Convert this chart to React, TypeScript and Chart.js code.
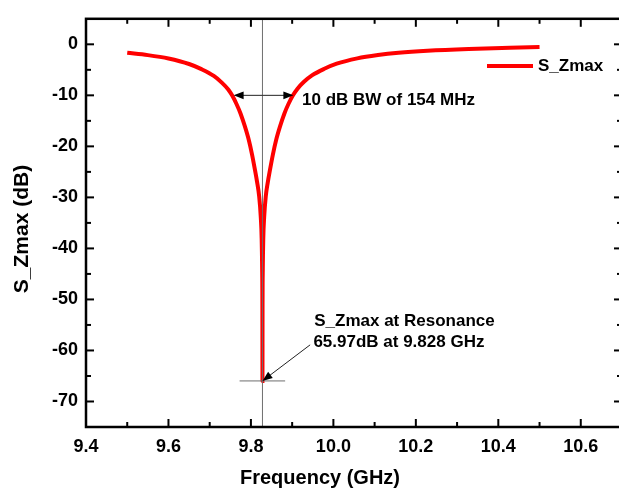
import React, { useEffect, useRef } from "react";
import { Chart, registerables } from "chart.js";

Chart.register(...registerables);

// ---- data ----
const frequencyGHz = [
  9.5, 9.55, 9.6, 9.65, 9.68, 9.71, 9.73, 9.745, 9.755, 9.765, 9.775, 9.785, 9.795, 9.803,
  9.81, 9.815, 9.82, 9.824, 9.826, 9.8272, 9.8278, 9.828, 9.8282, 9.8288, 9.83, 9.832, 9.836,
  9.841, 9.846, 9.853, 9.861, 9.871, 9.881, 9.891, 9.902, 9.913, 9.928, 9.948, 9.978, 10.008,
  10.058, 10.108, 10.158, 10.228, 10.328, 10.428, 10.5,
];
const szmaxDb = [
  -1.67, -2.12, -2.78, -3.86, -4.87, -6.2, -7.55, -8.85, -10.1, -11.7, -13.6, -16.0, -18.8, -21.7,
  -24.7, -27.0, -29.8, -34.0, -38.0, -44, -52, -65.97, -52, -44, -38.0, -34.0, -29.8,
  -27.0, -24.7, -21.7, -18.8, -16.0, -13.6, -11.7, -10.0, -8.7, -7.4, -6.1, -4.8, -3.8,
  -2.75, -2.1, -1.65, -1.25, -0.9, -0.68, -0.55,
];
const seriesLabel = "S_Zmax";
const xTickValues = [9.4, 9.6, 9.8, 10.0, 10.2, 10.4, 10.6];
const xMinorValues = [9.5, 9.7, 9.9, 10.1, 10.3, 10.5];
const yTickValues = [0, -10, -20, -30, -40, -50, -60, -70];
const yMinorValues = [-5, -15, -25, -35, -45, -55, -65];
const xTitle = "Frequency (GHz)";
const yTitle = "S_Zmax (dB)";

// annotation values
const resonanceFreq = 9.828;
const resonanceDb = -65.97;
const bwLevelDb = -10;
const bwLeftFreq = 9.758;
const bwRightFreq = 9.903;
const bwText = "10 dB BW of 154 MHz";
const resonanceText = ["S_Zmax at Resonance", "65.97dB at 9.828 GHz"];

const W = 626;
const H = 490;
const FONT = '"Liberation Sans", Arial, Helvetica, sans-serif';

function arrow(ctx: CanvasRenderingContext2D, x1: number, y1: number, x2: number, y2: number) {
  const ang = Math.atan2(y2 - y1, x2 - x1);
  const len = 10;
  const hw = 3.8;
  ctx.beginPath();
  ctx.moveTo(x1, y1);
  ctx.lineTo(x2 - Math.cos(ang) * len * 0.8, y2 - Math.sin(ang) * len * 0.8);
  ctx.stroke();
  ctx.beginPath();
  ctx.moveTo(x2, y2);
  ctx.lineTo(x2 - Math.cos(ang) * len - Math.sin(ang) * hw, y2 - Math.sin(ang) * len + Math.cos(ang) * hw);
  ctx.lineTo(x2 - Math.cos(ang) * len + Math.sin(ang) * hw, y2 - Math.sin(ang) * len - Math.cos(ang) * hw);
  ctx.closePath();
  ctx.fill();
}

const decorPlugin = {
  id: "decor",
  afterDatasetsDraw(chart: any) {
    const { ctx, chartArea: ca, scales } = chart;
    const x = scales.x;
    const y = scales.y;
    ctx.save();

    // vertical resonance marker
    const rx = x.getPixelForValue(resonanceFreq);
    ctx.strokeStyle = "#6e6e6e";
    ctx.lineWidth = 1;
    ctx.beginPath();
    ctx.moveTo(rx, ca.top);
    ctx.lineTo(rx, ca.bottom);
    ctx.stroke();

    // horizontal marker at resonance depth
    const ry = y.getPixelForValue(resonanceDb);
    ctx.beginPath();
    ctx.moveTo(x.getPixelForValue(9.7725), ry);
    ctx.lineTo(x.getPixelForValue(9.883), ry);
    ctx.stroke();

    // bandwidth double arrow
    ctx.strokeStyle = "#222";
    ctx.fillStyle = "#000";
    ctx.lineWidth = 1;
    const by = y.getPixelForValue(bwLevelDb);
    const bl = x.getPixelForValue(bwLeftFreq);
    const br = x.getPixelForValue(bwRightFreq);
    arrow(ctx, rx, by, bl, by);
    arrow(ctx, rx, by, br, by);

    // resonance arrow
    arrow(ctx, x.getPixelForValue(9.9436), y.getPixelForValue(-58.9), rx, ry);

    // texts
    ctx.fillStyle = "#000";
    ctx.font = `bold 17px ${FONT}`;
    ctx.textAlign = "left";
    ctx.textBaseline = "middle";
    ctx.fillText(bwText, x.getPixelForValue(9.924), y.getPixelForValue(-11.0));
    ctx.fillText(resonanceText[0], x.getPixelForValue(9.9535), y.getPixelForValue(-54.3));
    ctx.fillText(resonanceText[1], x.getPixelForValue(9.9515), y.getPixelForValue(-58.5));

    ctx.restore();
  },
  afterDraw(chart: any) {
    const { ctx, chartArea: ca, scales } = chart;
    const x = scales.x;
    const y = scales.y;
    ctx.save();

    // frame
    ctx.strokeStyle = "#000";
    ctx.lineWidth = 2.5;
    ctx.strokeRect(ca.left, ca.top, ca.right - ca.left, ca.bottom - ca.top);

    // inward ticks on all four sides
    ctx.lineWidth = 2;
    const seg = (a: number, b: number, c: number, d: number) => {
      ctx.beginPath();
      ctx.moveTo(a, b);
      ctx.lineTo(c, d);
      ctx.stroke();
    };
    const drawX = (vals: number[], len: number) =>
      vals.forEach((v) => {
        const px = x.getPixelForValue(v);
        seg(px, ca.bottom, px, ca.bottom - len);
        seg(px, ca.top, px, ca.top + len);
      });
    const drawY = (vals: number[], len: number) =>
      vals.forEach((v) => {
        const py = y.getPixelForValue(v);
        seg(ca.left, py, ca.left + len, py);
        seg(ca.right, py, ca.right - len, py);
      });
    drawX(xTickValues, 8);
    drawX(xMinorValues, 5);
    drawY(yTickValues, 8);
    drawY(yMinorValues, 5);

    // legend
    const ds = chart.data.datasets[0];
    const ly = ca.top + 47.3;
    ctx.strokeStyle = ds.borderColor;
    ctx.lineWidth = 4;
    seg(ca.right - 135, ly, ca.right - 89, ly);
    ctx.fillStyle = "#000";
    ctx.font = `bold 17px ${FONT}`;
    ctx.textAlign = "left";
    ctx.textBaseline = "middle";
    ctx.fillText(ds.label, ca.right - 84, ly);

    // axis titles
    ctx.font = `bold 20px ${FONT}`;
    ctx.textAlign = "center";
    ctx.textBaseline = "middle";
    ctx.fillText(xTitle, 320, 478);
    ctx.translate(22, 229);
    ctx.rotate(-Math.PI / 2);
    ctx.font = `bold 21px ${FONT}`;
    ctx.fillText(yTitle, 0, 0);

    ctx.restore();
  },
};

export default function App() {
  const ref = useRef<HTMLCanvasElement | null>(null);
  useEffect(() => {
    document.body.style.margin = "0";
    document.body.style.overflow = "hidden";
    document.documentElement.style.overflow = "hidden";
    const canvas = ref.current;
    if (!canvas) return;
    const tickFont = { family: FONT, size: 18, weight: "bold" as const };
    const chart = new Chart(canvas, {
      type: "line",
      data: {
        datasets: [
          {
            label: seriesLabel,
            data: frequencyGHz.map((f, i) => ({ x: f, y: szmaxDb[i] })),
            borderColor: "#ff0000",
            backgroundColor: "#ff0000",
            borderWidth: 4,
            pointRadius: 0,
            fill: false,
            cubicInterpolationMode: "monotone",
          },
        ],
      },
      options: {
        responsive: false,
        animation: false,
        devicePixelRatio: 1,
        layout: { padding: { top: 15, right: W - 622, left: 0, bottom: 0 } },
        plugins: { legend: { display: false }, tooltip: { enabled: false } },
        scales: {
          x: {
            type: "linear",
            min: 9.4,
            max: 10.7,
            grid: { display: false, drawTicks: false },
            border: { display: false },
            afterBuildTicks: (s: any) => {
              s.ticks = xTickValues.map((v) => ({ value: v }));
            },
            afterFit: (s: any) => {
              s.height = 63;
            },
            ticks: {
              padding: 9,
              color: "#000",
              font: tickFont,
              autoSkip: false,
              maxRotation: 0,
              callback: (v: any) => Number(v).toFixed(1),
            },
          },
          y: {
            type: "linear",
            min: -75,
            max: 5,
            grid: { display: false, drawTicks: false },
            border: { display: false },
            afterBuildTicks: (s: any) => {
              s.ticks = yTickValues.map((v) => ({ value: v }));
            },
            afterFit: (s: any) => {
              s.width = 86;
            },
            ticks: {
              padding: 8,
              color: "#000",
              font: tickFont,
              autoSkip: false,
              callback: (v: any) => String(v),
            },
          },
        },
      },
      plugins: [decorPlugin],
    } as any);
    return () => chart.destroy();
  }, []);
  return <canvas ref={ref} width={W} height={H} style={{ display: "block" }} />;
}
